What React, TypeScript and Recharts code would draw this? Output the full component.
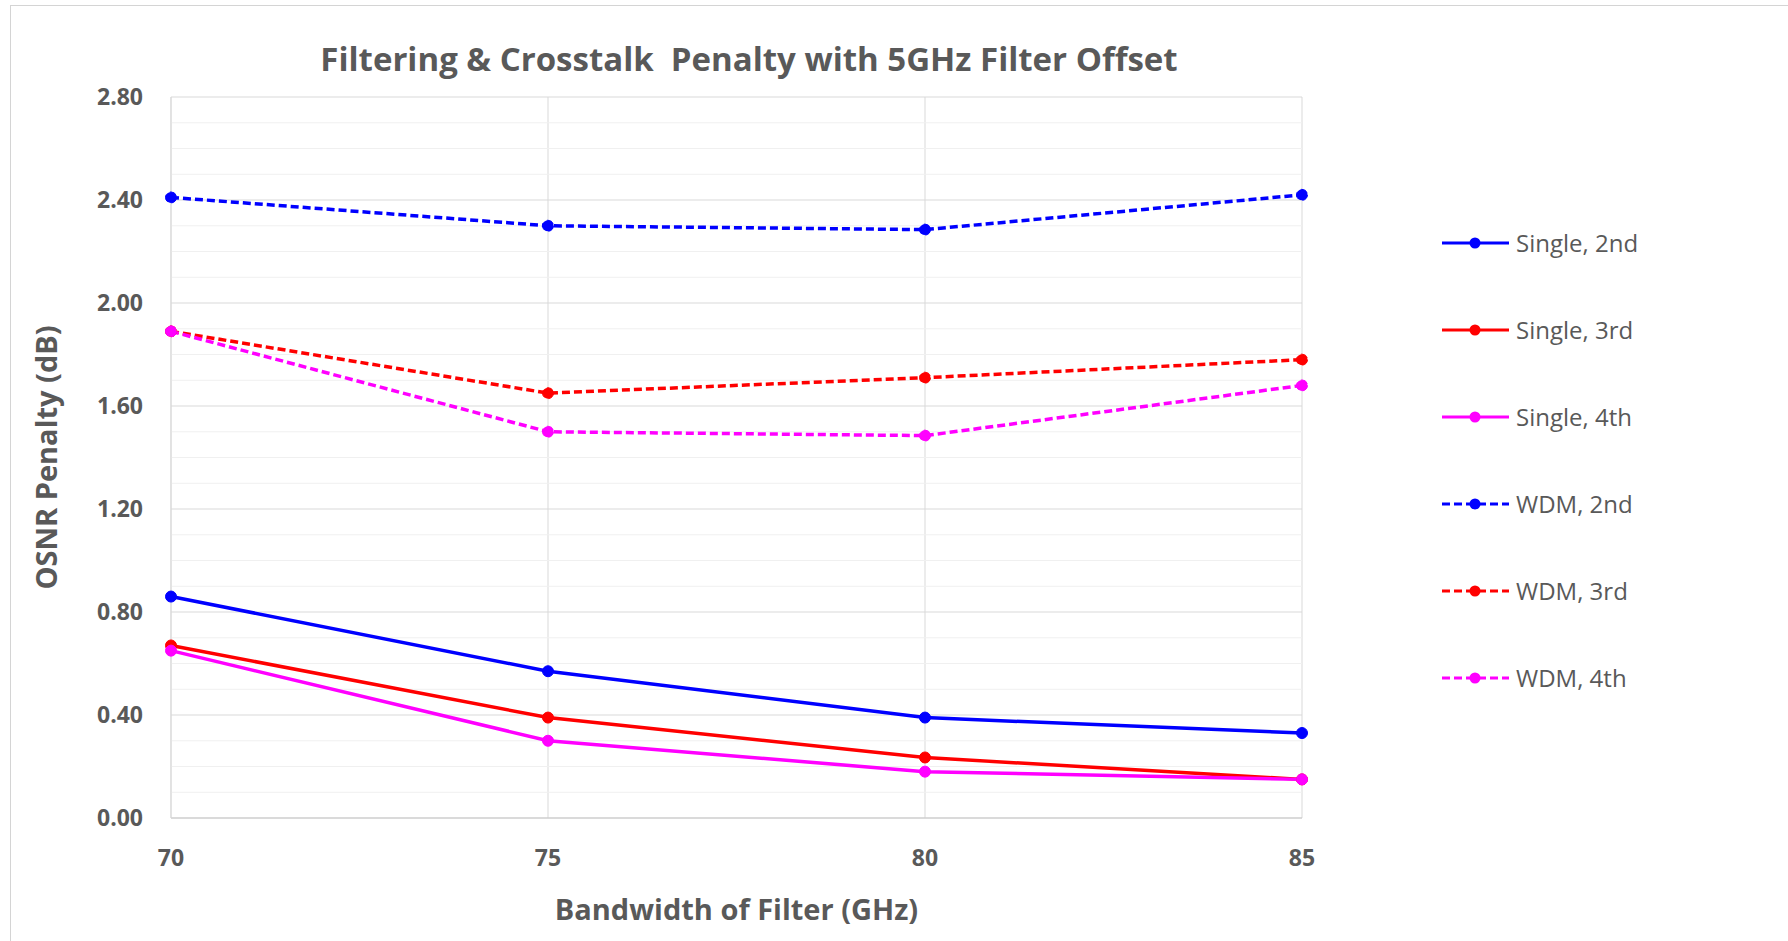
import { LineChart, Line, XAxis, YAxis, CartesianGrid, ReferenceLine } from "recharts"

const bandwidths = [70, 75, 80, 85]
const single2nd = [0.86, 0.57, 0.39, 0.33]
const single3rd = [0.67, 0.39, 0.235, 0.15]
const single4th = [0.65, 0.3, 0.18, 0.15]
const wdm2nd = [2.41, 2.3, 2.285, 2.42]
const wdm3rd = [1.89, 1.65, 1.71, 1.78]
const wdm4th = [1.89, 1.5, 1.485, 1.68]

const yTicks = [0, 0.4, 0.8, 1.2, 1.6, 2.0, 2.4, 2.8]
const yMinorTicks = [0.1, 0.2, 0.3, 0.5, 0.6, 0.7, 0.9, 1.0, 1.1, 1.3, 1.4, 1.5, 1.7, 1.8, 1.9, 2.1, 2.2, 2.3, 2.5, 2.6, 2.7]

const seriesList = [
  { key: "s2", name: "Single, 2nd", values: single2nd, color: "#0000ff", dashed: false },
  { key: "s3", name: "Single, 3rd", values: single3rd, color: "#ff0000", dashed: false },
  { key: "s4", name: "Single, 4th", values: single4th, color: "#ff00ff", dashed: false },
  { key: "w2", name: "WDM, 2nd", values: wdm2nd, color: "#0000ff", dashed: true },
  { key: "w3", name: "WDM, 3rd", values: wdm3rd, color: "#ff0000", dashed: true },
  { key: "w4", name: "WDM, 4th", values: wdm4th, color: "#ff00ff", dashed: true },
]

const data = bandwidths.map((bw, i) => {
  const row: Record<string, number> = { bw }
  seriesList.forEach((s) => {
    row[s.key] = s.values[i]
  })
  return row
})

const textColor = "#595959"
const font = "'Open Sans', sans-serif"

function LegendBox() {
  return (
    <div style={{ fontFamily: font, fontSize: 24, color: textColor }}>
      {seriesList.map((s) => (
        <div key={s.key} style={{ display: "flex", alignItems: "center", height: 87 }}>
          <svg width={70} height={14} style={{ marginRight: 4 }}>
            <line
              x1={0}
              x2={67}
              y1={7}
              y2={7}
              stroke={s.color}
              strokeWidth={3}
              strokeDasharray={s.dashed ? "8 4" : undefined}
            />
            <circle cx={33} cy={7} r={5.5} fill={s.color} />
          </svg>
          <span>{s.name}</span>
        </div>
      ))}
    </div>
  )
}

export default function App() {
  return (
    <div
      style={{
        position: "absolute",
        left: 0,
        top: 0,
        width: 1788,
        height: 941,
        overflow: "hidden",
        background: "#fff",
      }}
    >
      <div
        style={{
          position: "absolute",
          left: 10,
          top: 5,
          width: 1900,
          height: 1000,
          borderLeft: "1px solid #d4d4d4",
          borderTop: "1px solid #d4d4d4",
        }}
      />
      <div
        style={{
          position: "absolute",
          left: 0,
          top: 36,
          width: 1498,
          textAlign: "center",
          fontFamily: font,
          fontWeight: 700,
          fontSize: 33,
          color: textColor,
        }}
      >
        Filtering &amp; Crosstalk&nbsp; Penalty with 5GHz Filter Offset
      </div>
      <div style={{ position: "absolute", left: 1442, top: 199 }}>
        <LegendBox />
      </div>
      <div style={{ position: "absolute", left: 0, top: 0 }}>
        <LineChart
          width={1788}
          height={941}
          data={data}
          margin={{ top: 97, left: 111, right: 486, bottom: 83 }}
        >
          <CartesianGrid stroke="#d9d9d9" vertical={true} horizontal={true} />
          {yMinorTicks.map((v) => (
            <ReferenceLine key={v} y={v} stroke="#f0f0f0" strokeWidth={1} />
          ))}
          <XAxis
            dataKey="bw"
            type="number"
            domain={[70, 85]}
            ticks={bandwidths}
            interval={0}
            height={40}
            axisLine={{ stroke: "#c8c8c8" }}
            tickLine={false}
            tick={{ fill: textColor, fontFamily: font, fontWeight: 700, fontSize: 23 }}
            tickMargin={26}
            label={{
              value: "Bandwidth of Filter (GHz)",
              position: "insideBottom",
              offset: -62,
              fill: textColor,
              fontFamily: font,
              fontWeight: 700,
              fontSize: 29,
            }}
          />
          <YAxis
            type="number"
            domain={[0, 2.8]}
            ticks={yTicks}
            interval={0}
            width={60}
            axisLine={{ stroke: "#d9d9d9" }}
            tickLine={false}
            tickFormatter={(v: number) => v.toFixed(2)}
            tick={{ fill: textColor, fontFamily: font, fontWeight: 700, fontSize: 23 }}
            tickMargin={22}
            label={{
              value: "OSNR Penalty (dB)",
              angle: -90,
              position: "insideLeft",
              offset: -64,
              fill: textColor,
              fontFamily: font,
              fontWeight: 700,
              fontSize: 29,
              style: { textAnchor: "middle" },
            }}
          />
          {seriesList.map((s) => (
            <Line
              key={s.key}
              dataKey={s.key}
              name={s.name}
              type="linear"
              stroke={s.color}
              strokeWidth={3.5}
              strokeDasharray={s.dashed ? "8 4" : undefined}
              dot={{ r: 5.5, fill: s.color, stroke: s.color, strokeWidth: 1 }}
              activeDot={false}
              isAnimationActive={false}
            />
          ))}
        </LineChart>
      </div>
    </div>
  )
}
